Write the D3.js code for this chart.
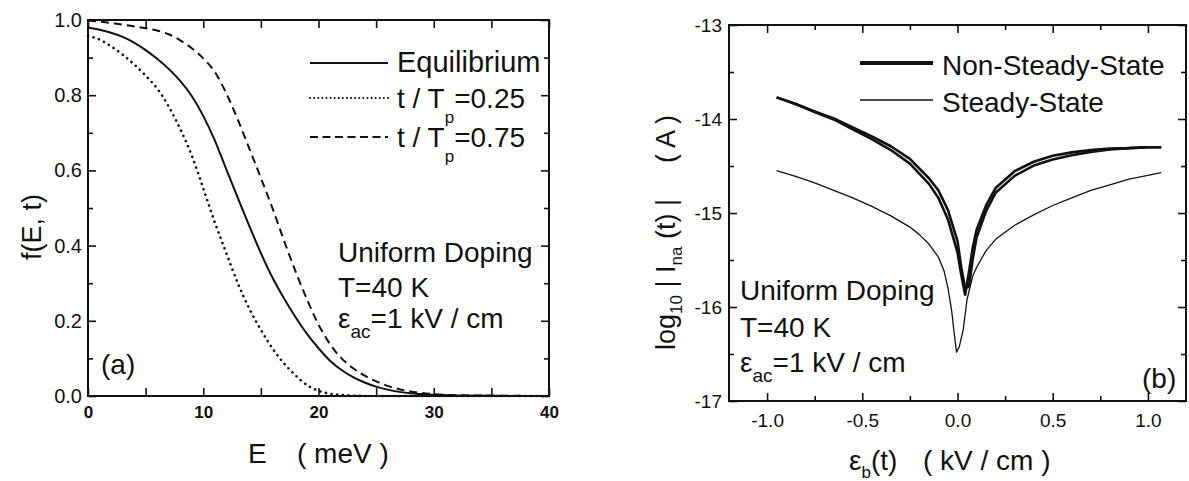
<!DOCTYPE html>
<html>
<head>
<meta charset="utf-8">
<script src="https://cdn.jsdelivr.net/npm/d3@7/dist/d3.min.js"></script>
<style>
  html, body { margin: 0; padding: 0; background: #fff; }
  svg { display: block; }
  text { font-family: "Liberation Sans", Arial, Helvetica, sans-serif; fill: #111; }
</style>
</head>
<body>
<svg id="chart" width="1189" height="481"></svg>
<script>
// ---------- Panel (a) data ----------
const energy = [0,1,2,3,4,5,6,7,8,9,10,11,12,13,14,15,16,17,18,19,20,21,22,23,24,25,26,27,28,29,30,32,35,40];
const fEquilibrium = [0.980,0.974,0.966,0.955,0.940,0.920,0.897,0.870,0.838,0.798,0.745,0.680,0.603,0.527,0.452,0.380,0.315,0.260,0.210,0.165,0.127,0.094,0.069,0.050,0.036,0.025,0.017,0.011,0.007,0.005,0.003,0.0015,0.0005,0];
const fQuarter = [0.958,0.948,0.930,0.908,0.882,0.852,0.818,0.770,0.710,0.640,0.552,0.462,0.380,0.300,0.232,0.176,0.127,0.087,0.055,0.029,0.014,0.006,0.003,0.001,0,0,0,0,0,0,0,0,0,0];
const fThreeQuarter = [0.998,0.996,0.992,0.988,0.983,0.978,0.972,0.962,0.946,0.925,0.898,0.862,0.805,0.735,0.658,0.580,0.500,0.414,0.332,0.257,0.190,0.138,0.100,0.074,0.054,0.039,0.027,0.018,0.012,0.008,0.005,0.002,0.001,0];
const xTicksA = [0,10,20,30,40];
const yTicksA = [0,0.2,0.4,0.6,0.8,1.0];

// ---------- Panel (b) data ----------
const fieldNSS = [-0.95,-0.85,-0.75,-0.65,-0.55,-0.45,-0.35,-0.25,-0.15,-0.10,-0.05,0.00,0.02,0.04,0.06,0.08,0.10,0.15,0.20,0.30,0.40,0.50,0.60,0.70,0.80,0.90,1.00,1.07];
const logNSSup   = [-13.77,-13.84,-13.92,-13.995,-14.09,-14.185,-14.29,-14.425,-14.63,-14.76,-14.97,-15.30,-15.58,-15.80,-15.78,-15.49,-15.26,-14.98,-14.785,-14.605,-14.495,-14.43,-14.385,-14.35,-14.325,-14.31,-14.30,-14.30];
const logNSSdown = [-13.77,-13.84,-13.925,-14.005,-14.11,-14.215,-14.33,-14.475,-14.69,-14.84,-15.07,-15.42,-15.66,-15.87,-15.63,-15.37,-15.18,-14.92,-14.735,-14.555,-14.455,-14.39,-14.355,-14.33,-14.315,-14.31,-14.30,-14.30];
const fieldSS = [-0.95,-0.85,-0.75,-0.65,-0.55,-0.45,-0.35,-0.25,-0.20,-0.15,-0.10,-0.07,-0.05,-0.03,-0.015,-0.005,0.01,0.03,0.05,0.08,0.10,0.15,0.20,0.30,0.40,0.50,0.60,0.70,0.80,0.90,1.00,1.07];
const logSS = [-14.55,-14.61,-14.68,-14.76,-14.84,-14.93,-15.03,-15.15,-15.23,-15.33,-15.47,-15.62,-15.80,-16.05,-16.32,-16.48,-16.42,-16.24,-15.92,-15.67,-15.58,-15.40,-15.28,-15.13,-15.02,-14.92,-14.84,-14.76,-14.70,-14.64,-14.60,-14.57];
const xTicksB = [-1.0,-0.5,0.0,0.5,1.0];
const yTicksB = [-17,-16,-15,-14,-13];

const svg = d3.select("#chart");
svg.append("rect").attr("width",1189).attr("height",481).attr("fill","#fff");

const INK = "#111";

function styleAxis(g, fontSize, weight) {
  g.select(".domain").remove();
  g.selectAll("line").attr("stroke", INK).attr("stroke-width", 1.6);
  g.selectAll("text").attr("font-size", fontSize).attr("font-weight", weight || "normal")
    .attr("fill", INK).attr("font-family", '"Liberation Sans", Arial, sans-serif');
}

function drawFrame(x, y, majX, minX, majY, minY, fmtX, fmtY, opt) {
  const [x0, x1] = x.range(); const [y0, y1] = y.range();
  const g = svg.append("g");
  g.append("g").attr("transform", `translate(0,${y0})`)
    .call(d3.axisBottom(x).tickValues(majX).tickSizeInner(-opt.majLen).tickSizeOuter(0).tickPadding(opt.padX).tickFormat(fmtX))
    .call(s => styleAxis(s, opt.fsX, opt.wX));
  g.append("g").attr("transform", `translate(0,${y0})`)
    .call(d3.axisBottom(x).tickValues(minX).tickSizeInner(-opt.minLen).tickSizeOuter(0).tickFormat(""))
    .call(s => styleAxis(s, 10));
  g.append("g").attr("transform", `translate(0,${y1})`)
    .call(d3.axisTop(x).tickValues(majX).tickSizeInner(-opt.majLen).tickSizeOuter(0).tickFormat(""))
    .call(s => styleAxis(s, 10));
  g.append("g").attr("transform", `translate(0,${y1})`)
    .call(d3.axisTop(x).tickValues(minX).tickSizeInner(-opt.minLen).tickSizeOuter(0).tickFormat(""))
    .call(s => styleAxis(s, 10));
  g.append("g").attr("transform", `translate(${x0},0)`)
    .call(d3.axisLeft(y).tickValues(majY).tickSizeInner(-opt.majLen).tickSizeOuter(0).tickPadding(opt.padY).tickFormat(fmtY))
    .call(s => styleAxis(s, opt.fsY));
  g.append("g").attr("transform", `translate(${x0},0)`)
    .call(d3.axisLeft(y).tickValues(minY).tickSizeInner(-opt.minLen).tickSizeOuter(0).tickFormat(""))
    .call(s => styleAxis(s, 10));
  g.append("g").attr("transform", `translate(${x1},0)`)
    .call(d3.axisRight(y).tickValues(majY).tickSizeInner(-opt.majLen).tickSizeOuter(0).tickFormat(""))
    .call(s => styleAxis(s, 10));
  g.append("g").attr("transform", `translate(${x1},0)`)
    .call(d3.axisRight(y).tickValues(minY).tickSizeInner(-opt.minLen).tickSizeOuter(0).tickFormat(""))
    .call(s => styleAxis(s, 10));
  g.append("rect").attr("x", x0).attr("y", y1).attr("width", x1 - x0).attr("height", y0 - y1)
    .attr("fill", "none").attr("stroke", INK).attr("stroke-width", 2);
}

function addText(parent, x, y, parts, fs, extra) {
  const t = parent.append("text").attr("x", x).attr("y", y).attr("font-size", fs)
    .style("white-space", "pre");
  if (extra) extra(t);
  parts.forEach(p => {
    const ts = t.append("tspan").text(p.t);
    if (p.fs) ts.attr("font-size", p.fs);
    if (p.dy) ts.attr("dy", p.dy);
    if (p.dx) ts.attr("dx", p.dx);
    if (p.x !== undefined) ts.attr("x", p.x);
  });
  return t;
}

// ================= Panel (a) =================
const xA = d3.scaleLinear().domain([0, 40]).range([88, 549]);
const yA = d3.scaleLinear().domain([0, 1]).range([396, 20]);
const fmtA = d => (d === 0 ? "0.0" : d.toFixed(1));
drawFrame(xA, yA, [0,5,10,15,20,25,30,35,40], [], yTicksA, [0.1,0.3,0.5,0.7,0.9], d => (xTicksA.includes(d) ? String(d) : ""), fmtA,
  { majLen: 8, minLen: 5, padX: 10, padY: 6, fsX: 17, wX: "bold", fsY: 20 });

const lineA = arr => d3.line().x((d, i) => xA(energy[i])).y(d => yA(d)).curve(d3.curveMonotoneX)(arr);
const gA = svg.append("g");
gA.append("path").attr("d", lineA(fEquilibrium)).attr("fill", "none").attr("stroke", INK).attr("stroke-width", 2);
gA.append("path").attr("d", lineA(fQuarter)).attr("fill", "none").attr("stroke", INK).attr("stroke-width", 2.6)
  .attr("stroke-dasharray", "0.1,5.6").attr("stroke-linecap", "round");
gA.append("path").attr("d", lineA(fThreeQuarter)).attr("fill", "none").attr("stroke", INK).attr("stroke-width", 2)
  .attr("stroke-dasharray", "8,5");

// legend (a)
gA.append("line").attr("x1", 310).attr("x2", 388).attr("y1", 63).attr("y2", 63).attr("stroke", INK).attr("stroke-width", 2);
gA.append("line").attr("x1", 310).attr("x2", 388).attr("y1", 98).attr("y2", 98).attr("stroke", INK).attr("stroke-width", 2)
  .attr("stroke-dasharray", "0.1,4").attr("stroke-linecap", "round");
gA.append("line").attr("x1", 310).attr("x2", 388).attr("y1", 137).attr("y2", 137).attr("stroke", INK).attr("stroke-width", 2)
  .attr("stroke-dasharray", "8,4.5");
addText(gA, 397, 72, [{ t: "Equilibrium" }], 29);
addText(gA, 397, 108, [{ t: "t / T" }, { t: "p", fs: 17, dy: 15, dx: 0 }, { t: "=0.25", dy: -15, dx: 0 }], 28);
addText(gA, 397, 147, [{ t: "t / T" }, { t: "p", fs: 17, dy: 15, dx: 0 }, { t: "=0.75", dy: -15, dx: 0 }], 28);

// annotation (a)
addText(gA, 338, 262, [{ t: "Uniform Doping" }], 28);
addText(gA, 338, 297, [{ t: "T=40 K" }], 28);
addText(gA, 338, 328, [{ t: "ε" }, { t: "ac", fs: 19, dy: 10 }, { t: "=1 kV / cm", dy: -10 }], 28);
addText(gA, 101, 374, [{ t: "(a)" }], 28);

// axis titles (a)
addText(gA, 0, 0, [{ t: "f(E, t)" }], 27, t => t.attr("text-anchor", "middle").attr("transform", "translate(41,227) rotate(-90)"));
addText(gA, 248, 463, [{ t: "E" }, { t: "( meV )", x: 297 }], 28);

// ================= Panel (b) =================
const xB = d3.scaleLinear().domain([-1.2, 1.2]).range([729, 1186]);
const yB = d3.scaleLinear().domain([-17, -13]).range([401, 25]);
const fmtBx = d => (d < 0 ? "-" : "") + Math.abs(d).toFixed(1);
const fmtBy = d => (d < 0 ? "-" : "") + Math.abs(d);
drawFrame(xB, yB, xTicksB, [-0.75,-0.25,0.25,0.75], yTicksB, [-16.5,-15.5,-14.5,-13.5], fmtBx, fmtBy,
  { majLen: 8, minLen: 5, padX: 13, padY: 7, fsX: 19, wX: "normal", fsY: 19 });

const gB = svg.append("g");
const lineNSS = arr => d3.line().x((d, i) => xB(fieldNSS[i])).y(d => yB(d))(arr);
const lineSS = d3.line().x((d, i) => xB(fieldSS[i])).y(d => yB(d));
gB.append("path").attr("d", lineSS(logSS)).attr("fill", "none").attr("stroke", INK).attr("stroke-width", 1.3)
  .attr("stroke-linejoin", "round");
gB.append("path").attr("d", lineNSS(logNSSup)).attr("fill", "none").attr("stroke", INK).attr("stroke-width", 2.6)
  .attr("stroke-linejoin", "round");
gB.append("path").attr("d", lineNSS(logNSSdown)).attr("fill", "none").attr("stroke", INK).attr("stroke-width", 2.6)
  .attr("stroke-linejoin", "round");

// legend (b)
gB.append("line").attr("x1", 860).attr("x2", 933).attr("y1", 63).attr("y2", 63).attr("stroke", INK).attr("stroke-width", 4);
gB.append("line").attr("x1", 860).attr("x2", 933).attr("y1", 100).attr("y2", 100).attr("stroke", INK).attr("stroke-width", 1.5);
addText(gB, 942, 75, [{ t: "Non-Steady-State" }], 28);
addText(gB, 942, 112, [{ t: "Steady-State" }], 28);

// annotation (b)
addText(gB, 740, 300, [{ t: "Uniform Doping" }], 28);
addText(gB, 740, 337, [{ t: "T=40 K" }], 28);
addText(gB, 740, 372, [{ t: "ε" }, { t: "ac", fs: 19, dy: 10 }, { t: "=1 kV / cm", dy: -10 }], 28);
addText(gB, 1142, 388, [{ t: "(b)" }], 28);

// axis titles (b)
addText(gB, 0, 0, [
  { t: "log" }, { t: "10", fs: 17, dy: 7 }, { t: " | I", dy: -7 }, { t: "na", fs: 17, dy: 7 }, { t: " (t) |", dy: -7 },
  { t: "( A )", x: 187 }
], 27, t => t.attr("transform", "translate(675,350) rotate(-90)"));
addText(gB, 849, 470, [{ t: "ε" }, { t: "b", fs: 17, dy: 8 }, { t: "(t)", dy: -8 }, { t: "( kV / cm )", x: 923 }], 28);
</script>
</body>
</html>
